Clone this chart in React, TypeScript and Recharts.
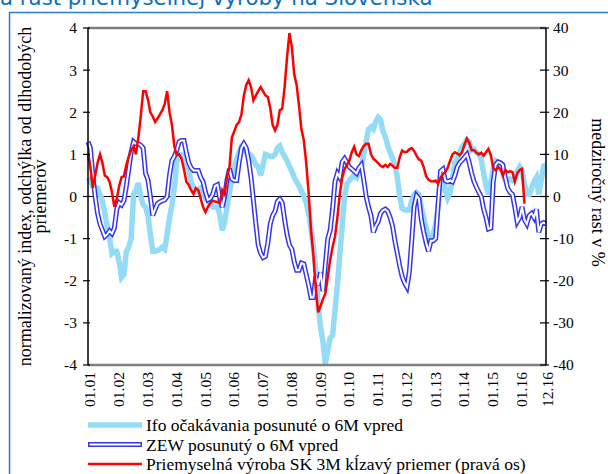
import { LineChart, Line, XAxis, YAxis, ReferenceLine } from 'recharts';

// monthly values, Jan 2001 .. Dec 2016 (Ifo and ZEW already shifted 6M ahead)
const ifo = [
  0.45, 0.35, 0.25, 0.22, 0.2, 0.05, -0.1, -0.4, -0.7, -1.0, -1.35, -1.3,
  -1.3, -1.55, -1.92, -1.85, -1.3, -1.2, -1.0, 0.05, 0.15, 0.32, 0.0, -0.2,
  -0.25, -0.45, -0.9, -1.3, -1.3, -1.28, -1.25, -1.2, -1.25, -0.9, -0.5, -0.2,
  0.2, 0.8, 1.0, 1.0, 0.92, 0.8, 0.6, 0.35, 0.2, 0.1, 0.15, 0.2,
  0.05, -0.05, -0.1, -0.2, -0.25, -0.25, -0.22, -0.45, -0.8, -0.6, -0.25, 0.1,
  0.4, 0.65, 0.9, 1.05, 1.2, 1.2, 1.05, 1.0, 0.98, 0.88, 0.75, 0.7,
  0.5, 0.75, 1.0, 0.98, 0.95, 0.95, 1.0, 1.15, 1.2, 1.05, 0.95, 0.85,
  0.72, 0.6, 0.45, 0.35, 0.25, 0.12, 0.02, -0.15, -0.4, -0.75, -1.2, -1.75,
  -2.6, -3.1, -3.45, -3.97, -3.65, -3.35, -3.3, -2.7, -2.1, -1.4, -0.7, 0.0,
  0.3, 0.38, 0.45, 0.5, 0.45, 0.6, 0.72, 1.0, 1.3, 1.6, 1.65, 1.6,
  1.78, 1.88, 1.82, 1.55, 1.42, 1.2, 1.05, 0.9, 0.75, 0.45, 0.0, -0.28,
  -0.32, -0.32, -0.32, -0.1, 0.05, 0.1, 0.05, -0.25, -0.5, -0.75, -0.95, -1.05,
  -0.9, -0.65, -0.25, 0.3, 0.5, 0.15, -0.03, 0.1, 0.45, 0.8, 0.88, 1.05,
  1.18, 1.25, 1.35, 1.3, 1.1, 1.12, 1.05, 1.0, 0.88, 0.55, 0.25, 0.05,
  0.35, 0.68, 0.85, 0.82, 0.72, 0.55, 0.4, 0.4, 0.42, 0.38, 0.45, 0.6,
  0.7, 0.6, 0.3, 0.05, 0.05, 0.2, 0.35, 0.45, 0.05, 0.38, 0.72, 0.75,
];

const zew = [
  1.3, 1.15, 0.5, 0.0, -0.4, -0.65, -0.8, -0.95, -0.9, -0.82, -0.88, -0.75,
  -0.3, -0.15, -0.2, -0.1, 0.25, 0.65, 1.05, 1.3, 1.25, 1.25, 1.22, 1.15,
  0.55, 0.4, 0.0, -0.45, -0.3, -0.17, -0.13, -0.1, -0.08, 0.0, 0.5, 0.85,
  0.95, 1.1, 1.3, 1.33, 1.33, 1.05, 0.8, 0.68, 0.62, 0.62, 0.62, 0.45,
  0.35, 0.1, -0.08, -0.05, 0.05, 0.25, 0.28, -0.05, -0.25, 0.0, 0.4, 0.66,
  0.42, 0.38, 0.38, 0.8, 1.15, 1.25, 1.15, 0.85, 0.45, -0.1, -0.65, -1.15,
  -1.35, -1.45, -1.42, -1.1, -0.65, -0.45, -0.35, -0.12, -0.06, -0.15, -0.55, -0.9,
  -1.15, -1.25, -1.55, -1.75, -1.75, -1.58, -1.6, -1.85, -2.1, -2.4, -2.4, -1.9,
  -2.1, -1.8, -2.25, -1.6, -1.0, -0.8, -0.3, 0.35, 0.55, 0.45, 0.82, 0.9,
  0.8, 0.7, 0.65, 0.6, 0.55, 0.68, 0.75, 0.4, 0.0, -0.25, -0.45, -0.85,
  -0.7, -0.6, -0.4, -0.33, -0.3, -0.35, -0.5, -0.7, -1.05, -1.35, -1.65, -1.9,
  -2.05, -2.15, -1.8, -1.05, -0.25, 0.02, -0.05, -0.55, -0.85, -1.1, -1.3, -1.05,
  -1.05, -1.0, -0.2, 0.6, 0.65, 0.38, 0.35, 0.38, 0.35, 0.5, 0.7, 0.8,
  0.86, 0.93, 1.0, 0.8, 0.55, 0.35, 0.22, 0.1, 0.0, -0.3, -0.5, -0.77,
  -0.75, 0.35, 0.75, 0.82, 0.8, 0.75, 0.45, 0.2, 0.1, 0.05, -0.25, -0.6,
  -0.5, -0.25, -0.55, -0.65, -0.45, -0.4, -0.5, -0.3, -0.85, -0.65, -0.62, -0.65,
];

// industrial production SK, 3M moving average, y/y % (right axis), ends Mar 2016
const ip = [
  10, 7, 2, 5, 8, 10, 8, 5, 4.6, 3.5, 1, -2.5,
  -0.5, 2.5, 4.6, 4.8, 7.5, 9.5, 11, 11.9, 10, 14, 19, 25,
  25, 23, 20, 19, 17.7, 18.5, 19.5, 20.5, 22, 25, 20, 17,
  12, 9.8, 10, 9, 6.5, 3.5, 2.8, 1.5, 0.6, 2, 1.5, -0.5,
  -2.5, -3.7, -2.5, -1.5, -1.0, -1.2, -1.3, -1.5, 1.5, 0.5, 4.6, 7,
  14, 15.5, 17, 17.7, 19.5, 24, 26.5, 27.6, 26, 22.8, 24, 25,
  26, 25, 24, 23.6, 21, 17, 15.7, 17, 20.5, 20.8, 26, 33,
  38.8, 35.5, 29, 26.5, 21.5, 16, 13.3, 8, 1, -8, -14, -22,
  -27.5, -26, -24.3, -23, -19, -15, -12, -9.5, -5, 0.5, 4.5, 6.5,
  7.5, 8.5, 10.5, 11.8, 10, 9.6, 11, 12, 12.5, 12.5, 10, 9,
  8.5, 7.9, 7.3, 7, 7.5, 7, 7.7, 7.3, 6.8, 6.8, 9.3, 10.9,
  10.5, 10.6, 11.2, 11.5, 10.8, 9.7, 8.8, 8.5, 7, 4.8, 4, 3.6,
  3.6, 3.8, 3.0, 4.5, 5.3, 5.8, 6.8, 8.5, 10, 10.5, 10.2, 9.8,
  10.5, 12.3, 13.7, 12.8, 11, 11, 10.4, 10, 10.4, 9.7, 10.5, 11.3,
  9.8, 6.8, 6.2, 7, 6.5, 5, 6.3, 5.8, 6, 5.8, 3.5, 5.5,
  6.3, 6.6, -1.7,
];

const xTicks = [
  '01.01', '01.02', '01.03', '01.04', '01.05', '01.06', '01.07', '01.08',
  '01.09', '01.10', '01.11', '01.12', '01.13', '01.14', '01.15', '01.16', '12.16',
];
const leftTicks = [-4, -3, -2, -1, 0, 1, 2, 3, 4];
const rightTicks = [-40, -30, -20, -10, 0, 10, 20, 30, 40];

const pad = (n: number) => (n < 10 ? '0' + n : '' + n);
const data = ifo.map((v, i) => ({
  m: pad((i % 12) + 1) + '.' + pad(Math.floor(i / 12) + 1),
  ifo: v,
  zew: zew[i],
  ip: i < ip.length ? ip[i] : null,
}));

const serif = '"Liberation Serif", "Times New Roman", serif';
const IFO = '#93dbf6';
const ZEW = '#3535ee';
const RED = '#ff0000';

const XTick = (p: any) => (
  <text
    x={p.x + 2}
    y={p.y}
    transform={`rotate(-90 ${p.x + 2} ${p.y})`}
    textAnchor="end"
    dy="0.35em"
    fontSize={15.5}
    fontFamily={serif}
    fill="#000"
  >
    {p.payload.value}
  </text>
);

const LeftTick = (p: any) => (
  <g>
    <line x1={p.x + 6} x2={p.x + 13} y1={p.y} y2={p.y} stroke="#000" strokeWidth={1.2} />
    <text x={p.x} y={p.y} dy="0.35em" textAnchor="end" fontSize={15.5} fontFamily={serif} fill="#000">
      {p.payload.value}
    </text>
  </g>
);

const RightTick = (p: any) => (
  <g>
    <line x1={p.x - 13} x2={p.x - 4} y1={p.y} y2={p.y} stroke="#000" strokeWidth={1.2} />
    <text x={p.x} y={p.y} dy="0.35em" textAnchor="start" fontSize={15.5} fontFamily={serif} fill="#000">
      {p.payload.value}
    </text>
  </g>
);

const LeftTitle = ({ viewBox }: any) => {
  const cy = viewBox.y + viewBox.height / 2;
  return (
    <g fontFamily={serif} fontSize={18} fill="#000">
      <text x={31} y={cy} transform={`rotate(-90 31 ${cy})`} textAnchor="middle">
        normalizovaný index, odchýlka od dlhodobých
      </text>
      <text x={46} y={cy} transform={`rotate(-90 46 ${cy})`} textAnchor="middle">
        priemerov
      </text>
    </g>
  );
};

const RightTitle = ({ viewBox }: any) => {
  const cy = viewBox.y + viewBox.height / 2 - 4;
  const x = viewBox.x + 46;
  return (
    <text
      x={x}
      y={cy}
      transform={`rotate(90 ${x} ${cy})`}
      textAnchor="middle"
      fontFamily={serif}
      fontSize={18}
      fill="#000"
    >
      medziročný rast v %
    </text>
  );
};

const legendItems = [
  { name: 'Ifo očakávania posunuté o 6M vpred', kind: 'ifo' },
  { name: 'ZEW posunutý o 6M vpred', kind: 'zew' },
  { name: 'Priemyselná výroba SK 3M kĺzavý priemer (pravá os)', kind: 'ip' },
];

export default function App() {
  return (
    <div style={{ position: 'fixed', left: 0, top: 0, width: 608, height: 474, overflow: 'hidden', background: '#fff' }}>
      <LineChart width={608} height={474} data={data} margin={{ top: 28, right: 0, bottom: 0, left: 0 }}>
        <XAxis
          dataKey="m"
          ticks={xTicks}
          interval={0}
          height={109}
          tickLine={false}
          tickSize={0}
          tickMargin={7}
          tick={XTick}
          axisLine={{ stroke: '#808080', strokeWidth: 2.5 }}
        />
        <YAxis
          yAxisId="left"
          domain={[-4, 4]}
          ticks={leftTicks}
          width={88}
          tickLine={false}
          tickSize={4}
          tickMargin={7}
          tick={LeftTick}
          axisLine={{ stroke: '#000', strokeWidth: 1.5 }}
          label={{ content: LeftTitle }}
        />
        <YAxis
          yAxisId="right"
          orientation="right"
          domain={[-40, 40]}
          ticks={rightTicks}
          width={62}
          tickLine={false}
          tickSize={4}
          tickMargin={3}
          tick={RightTick}
          axisLine={{ stroke: '#000', strokeWidth: 1.5 }}
          label={{ content: RightTitle }}
        />
        <ReferenceLine yAxisId="left" y={4} stroke="#808080" strokeWidth={2.5} />
        <ReferenceLine yAxisId="left" y={0} stroke="#000" strokeWidth={1} />
        <Line yAxisId="left" dataKey="ifo" stroke={IFO} strokeWidth={5.5} dot={false} isAnimationActive={false} />
        <Line yAxisId="left" dataKey="zew" stroke={ZEW} strokeWidth={5} dot={false} isAnimationActive={false} />
        <Line yAxisId="left" dataKey="zew" stroke="#fff" strokeWidth={2} dot={false} isAnimationActive={false} />
        <Line yAxisId="right" dataKey="ip" stroke={RED} strokeWidth={2.5} dot={false} isAnimationActive={false} />
      </LineChart>
      <svg width={608} height={474} style={{ position: 'absolute', left: 0, top: 0, pointerEvents: 'none' }}>
        <rect x={9.5} y={12.5} width={700} height={600} fill="none" stroke="#2e7bcf" strokeWidth={1.5} />
        <text x={0} y={5} fontFamily='"DejaVu Sans", Verdana, sans-serif' fontSize={21.3} fill="#0a6fc2">
          a rast priemyselnej výroby na Slovensku
        </text>
        {legendItems.map((it, k) => {
          const ly = 425 + k * 19.5;
          return (
            <g key={it.kind}>
              {it.kind === 'ifo' && <line x1={88} x2={142} y1={ly} y2={ly} stroke={IFO} strokeWidth={5.5} />}
              {it.kind === 'zew' && (
                <>
                  <line x1={88} x2={142} y1={ly} y2={ly} stroke={ZEW} strokeWidth={5} />
                  <line x1={89.5} x2={140.5} y1={ly} y2={ly} stroke="#fff" strokeWidth={2} />
                </>
              )}
              {it.kind === 'ip' && <line x1={88} x2={142} y1={ly} y2={ly} stroke={RED} strokeWidth={2.5} />}
              <text x={146} y={ly + 6} fontFamily={serif} fontSize={17.5} fill="#000">
                {it.name}
              </text>
            </g>
          );
        })}
      </svg>
    </div>
  );
}
